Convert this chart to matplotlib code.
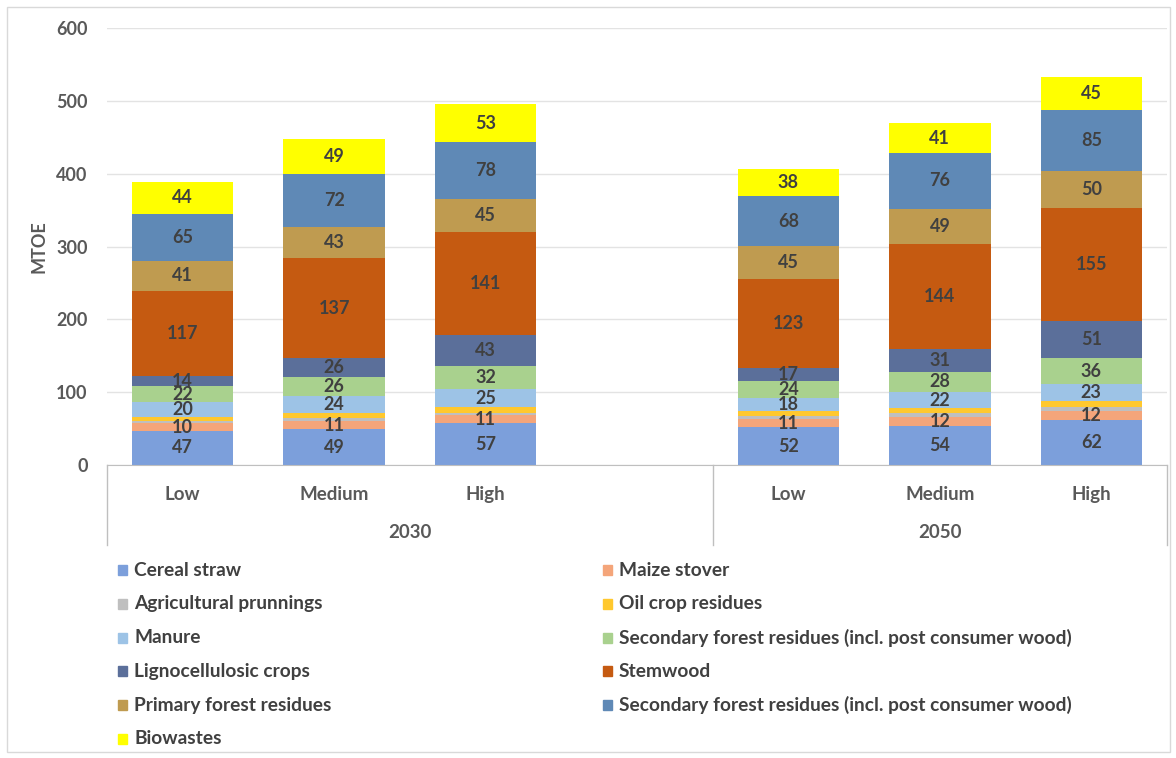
"""Stacked bioenergy potential by feedstock, 2030 vs 2050, low/medium/high scenarios."""

import matplotlib
matplotlib.use("Agg")
import matplotlib.pyplot as plt  # noqa: E402
from matplotlib.patches import Rectangle  # noqa: E402

# --------------------------------------------------------------------------- data
scenarios = ["Low", "Medium", "High", "Low", "Medium", "High"]
years = ["2030", "2050"]
xpos = [0, 1, 2, 4, 5, 6]          # slot 3 is the empty gap after 2030

cereal_straw = [47, 49, 57, 52, 54, 62]
maize_stover = [10, 11, 11, 11, 12, 12]
agri_prunnings = [3, 4, 4, 4, 5, 5]
oil_crop = [6, 7, 7, 7, 7, 9]
manure = [20, 24, 25, 18, 22, 23]
sec_forest_green = [22, 26, 32, 24, 28, 36]
ligno_crops = [14, 26, 43, 17, 31, 51]
stemwood = [117, 137, 141, 123, 144, 155]
primary_forest = [41, 43, 45, 45, 49, 50]
sec_forest_blue = [65, 72, 78, 68, 76, 85]
biowastes = [44, 49, 53, 38, 41, 45]

SEC = "Secondary forest residues (incl. post consumer wood)"
series = [
    ("Cereal straw", cereal_straw, "#7C9FDB", True),
    ("Maize stover", maize_stover, "#F4A57A", True),
    ("Agricultural prunnings", agri_prunnings, "#BFBFBF", False),
    ("Oil crop residues", oil_crop, "#FFC82E", False),
    ("Manure", manure, "#9DC3E6", True),
    (SEC, sec_forest_green, "#A9D18E", True),
    ("Lignocellulosic crops", ligno_crops, "#5B6F9A", True),
    ("Stemwood", stemwood, "#C55A11", True),
    ("Primary forest residues", primary_forest, "#BF9B50", True),
    (SEC, sec_forest_blue, "#5F89B6", True),
    ("Biowastes", biowastes, "#FFFF00", True),
]

GREY = "#595959"
LABEL = "#404040"
plt.rcParams["font.family"] = ["Lato", "DejaVu Sans"]

W, H = 1176, 758
fig = plt.figure(figsize=(W / 100, H / 100), dpi=100)
fig.patches.append(Rectangle((7 / W, 6 / H), 1163 / W, 745 / H, transform=fig.transFigure,
                             fill=False, ec="#D9D9D9", lw=1))
ax = fig.add_axes([107 / W, 1 - 465 / H, 1060 / W, 437 / H])

bottom = [0] * len(xpos)
for name, vals, color, labelled in series:
    bars = ax.bar(xpos, vals, width=0.67, bottom=bottom, color=color, zorder=2)
    if labelled:
        ax.bar_label(bars, labels=[str(v) for v in vals], label_type="center",
                     fontsize=13, fontweight="bold", color=LABEL)
    bottom = [b + v for b, v in zip(bottom, vals)]

ax.set_xlim(-0.5, 6.5)
ax.set_ylim(0, 600)
ax.set_yticks(range(0, 601, 100))
ax.tick_params(axis="y", length=0, pad=14, labelsize=13, labelcolor=GREY)
for t in ax.get_yticklabels():
    t.set_fontweight("bold")
ax.grid(axis="y", color="#E3E3E3", lw=1, zorder=0)
for s in ("top", "right", "left"):
    ax.spines[s].set_visible(False)
ax.spines["bottom"].set_color("#BFBFBF")
ax.set_ylabel("MTOE", fontsize=13, color=GREY, va="center")
ax.yaxis.label.set_fontweight("bold")
ax.yaxis.set_label_coords(-68 / 1060, 0.5)

# two-level category axis
ax.set_xticks(xpos)
ax.set_xticklabels(scenarios, fontweight="bold")
ax.tick_params(axis="x", length=0, pad=15, labelsize=13.5, labelcolor=GREY)
trans = ax.get_xaxis_transform()
for xv in (-0.5, 3.5, 6.5):
    ax.plot([xv, xv], [0, -0.183], transform=trans, color="#BFBFBF", lw=1, clip_on=False)
for year, xc in zip(years, (1.5, 5.0)):
    ax.text(xc, -0.154, year, transform=trans, ha="center", va="center",
            fontsize=13.5, fontweight="bold", color=GREY)

# legend, two columns filled row by row
for i, (name, _vals, color, _l) in enumerate(series):
    row, col = divmod(i, 2)
    x0 = 118 if col == 0 else 603
    yc = 570 + row * 33.8
    fig.patches.append(Rectangle((x0 / W, 1 - (yc + 5) / H), 9 / W, 10 / H,
                                 transform=fig.transFigure, color=color))
    fig.text((x0 + 16) / W, 1 - yc / H, name, ha="left", va="center",
             fontsize=13.8, fontweight="bold", color=LABEL)

fig.savefig("out.png", dpi=100, facecolor="white")
